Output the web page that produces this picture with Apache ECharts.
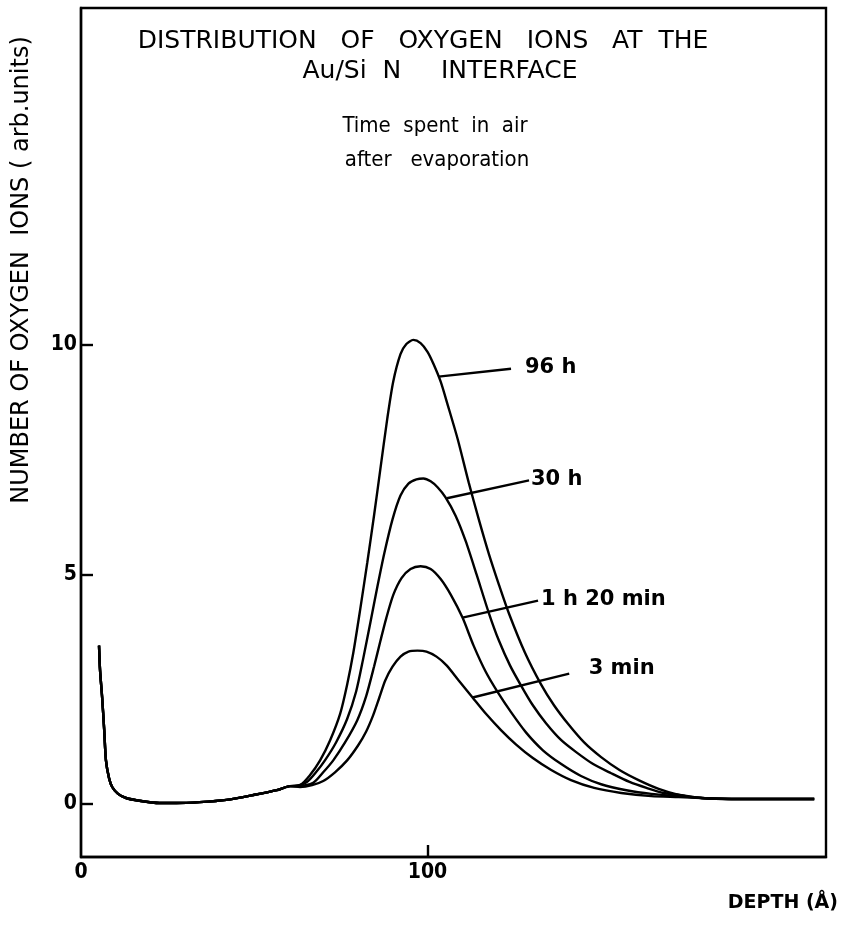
<!DOCTYPE html>
<html>
<head>
<meta charset="utf-8">
<script src="https://cdn.jsdelivr.net/npm/echarts@6/dist/echarts.min.js"></script>
<style>
  html, body { margin: 0; padding: 0; background: #fff; }
  #chart { width: 843px; height: 926px; }
</style>
</head>
<body>
<div id="chart"></div>
<script>
// Oxygen ion depth profiles at the Au/Si3N4 interface, one curve per air exposure time.
// Points are [depth (Å), number of oxygen ions (arb. units)].

// surface spike and flat region shared by every profile
const surfaceSegment = [
  [5.2, 3.45], [5.5, 2.91], [6.1, 2.32], [6.7, 1.61], [7.2, 0.95], [8.1, 0.56],
  [9.0, 0.37], [10.7, 0.22], [13.0, 0.13], [16.8, 0.07], [22.6, 0.02], [27.5, 0.02],
  [34.2, 0.04], [42.0, 0.09], [50.1, 0.20], [56.5, 0.30], [60.3, 0.39]
];

// deep tail shared by every profile
const bulkSegment = [
  [179.1, 0.13], [187.8, 0.11], [196.5, 0.11], [205.2, 0.11], [211.6, 0.11]
];

const peak96h = [
  [63.2, 0.41], [66.1, 0.63], [69.0, 0.95], [71.9, 1.39], [74.8, 1.97], [76.8, 2.60],
  [78.6, 3.30], [80.6, 4.25], [82.6, 5.25], [84.6, 6.30], [86.4, 7.30], [88.4, 8.40],
  [90.1, 9.20], [92.2, 9.80], [93.9, 10.02], [95.9, 10.11], [98.0, 10.04], [100.0, 9.85],
  [101.7, 9.59], [103.8, 9.20], [105.8, 8.70], [108.7, 7.95], [111.9, 7.00], [114.8, 6.20],
  [117.7, 5.45], [120.6, 4.78], [123.5, 4.15], [128.1, 3.30], [132.8, 2.60], [136.5, 2.15],
  [140.6, 1.74], [145.2, 1.34], [150.1, 1.02], [155.4, 0.74], [160.9, 0.52], [166.7, 0.33],
  [172.5, 0.20]
];

const peak30h = [
  [61.7, 0.39], [65.2, 0.48], [67.8, 0.69], [70.4, 0.95], [73.6, 1.34], [76.8, 1.85],
  [79.4, 2.45], [81.4, 3.15], [83.5, 3.95], [85.5, 4.72], [87.5, 5.45], [89.9, 6.20],
  [92.2, 6.72], [94.5, 6.98], [96.8, 7.07], [98.8, 7.09], [100.9, 7.03], [102.9, 6.90],
  [105.2, 6.68], [108.1, 6.28], [111.0, 5.73], [114.2, 4.99], [117.7, 4.16], [120.6, 3.56],
  [123.8, 3.02], [127.0, 2.58], [130.4, 2.15], [134.2, 1.76], [138.6, 1.39], [142.9, 1.13],
  [147.8, 0.87], [153.0, 0.67], [158.3, 0.48], [163.2, 0.35], [168.1, 0.24], [172.5, 0.20]
];

const peak1h20 = [
  [62.6, 0.39], [67.0, 0.46], [69.9, 0.69], [72.8, 0.95], [76.2, 1.34], [79.7, 1.82],
  [82.3, 2.35], [84.6, 3.00], [86.4, 3.55], [88.1, 4.05], [90.1, 4.55], [92.5, 4.92],
  [95.1, 5.12], [98.0, 5.18], [100.9, 5.12], [103.8, 4.90], [106.7, 4.56], [110.1, 4.06],
  [113.3, 3.45], [116.8, 2.88], [120.3, 2.43], [124.1, 2.00], [128.4, 1.56], [133.3, 1.17],
  [138.6, 0.87], [144.3, 0.61], [150.1, 0.43], [157.4, 0.30], [164.6, 0.22], [172.5, 0.17]
];

const peak3min = [
  [63.2, 0.37], [66.7, 0.41], [69.9, 0.50], [73.3, 0.69], [76.8, 0.95], [80.0, 1.28],
  [82.3, 1.58], [84.3, 1.93], [86.1, 2.32], [87.8, 2.69], [89.9, 2.99], [92.2, 3.21],
  [94.5, 3.32], [97.1, 3.34], [99.7, 3.32], [102.6, 3.21], [105.5, 3.02], [109.0, 2.69],
  [113.0, 2.32], [116.8, 1.97], [121.2, 1.61], [125.5, 1.30], [130.4, 1.00], [135.7, 0.74],
  [141.4, 0.52], [148.1, 0.35], [155.9, 0.24], [164.6, 0.17], [172.5, 0.15]
];

const seriesNames = ['96 h', '30 h', '1 h 20 min', '3 min'];
const peakSegments = [peak96h, peak30h, peak1h20, peak3min];

// leader lines from each curve to its exposure-time label: [start, end] in data units
const leaderLines = [
  [[103.2, 9.31], [124.1, 9.48]],
  [[105.6, 6.66], [129.3, 7.05]],
  [[110.1, 4.06], [131.9, 4.43]],
  [[113.0, 2.32], [140.9, 2.84]]
];
const leaderLabelGap = [14, 2, 3, 20];

const xTickValues = [100];
const xLabelValues = [0, 100];
const yTickValues = [0, 5, 10];

const titleLines = [
  'DISTRIBUTION   OF   OXYGEN   IONS   AT  THE',
  'Au/Si  N     INTERFACE',
  'Time  spent  in  air',
  'after   evaporation'
];
const yAxisTitle = 'NUMBER OF OXYGEN  IONS ( arb.units)';
const xAxisTitle = 'DEPTH (Å)';

const WIDE = "'DejaVu Sans', Verdana, sans-serif";
const NARROW = "'DejaVu Sans Condensed', 'Liberation Sans Narrow', 'DejaVu Sans', sans-serif";
const INK = '#000';

const chart = echarts.init(document.getElementById('chart'), null, { renderer: 'canvas' });

const series = seriesNames.map((name, i) => ({
  name: name,
  type: 'line',
  data: surfaceSegment.concat(peakSegments[i], bulkSegment),
  showSymbol: false,
  smooth: 0.25,
  lineStyle: { color: INK, width: 2.4 },
  silent: true,
  z: 3,
  markLine: {
    silent: true,
    symbol: ['none', 'none'],
    lineStyle: { color: INK, width: 2.4, type: 'solid' },
    label: {
      show: true,
      position: 'end',
      distance: leaderLabelGap[i],
      formatter: name,
      color: INK,
      fontFamily: WIDE,
      fontWeight: 'bold',
      fontSize: 21
    },
    data: [[
      { coord: leaderLines[i][0] },
      { coord: leaderLines[i][1] }
    ]]
  }
}));

// upper-case heading in the wide face, the lower-case caption in the condensed one
const titleLayout = [
  { x: 423, y: 41, size: 25, font: WIDE },
  { x: 440, y: 71, size: 25, font: WIDE },
  { x: 435, y: 126, size: 22, font: NARROW },
  { x: 437, y: 160, size: 22, font: NARROW }
];

chart.setOption({
  backgroundColor: '#fff',
  animation: false,
  grid: {
    left: 81, right: 17, top: 8, bottom: 69,
    show: true, borderColor: INK, borderWidth: 2.4, backgroundColor: 'transparent'
  },
  xAxis: {
    type: 'value',
    min: 0,
    max: 215,
    interval: 100,
    splitLine: { show: false },
    axisLine: { show: true, onZero: false, lineStyle: { color: INK, width: 2.4 } },
    axisTick: { show: true, inside: true, length: 12, customValues: xTickValues,
      lineStyle: { color: INK, width: 2.4 } },
    axisLabel: { show: true, customValues: xLabelValues, margin: 5, color: INK,
      fontFamily: NARROW, fontWeight: 'bold', fontSize: 21 }
  },
  yAxis: {
    type: 'value',
    min: -1.155,
    max: 17.34,
    splitLine: { show: false },
    axisLine: { show: true, onZero: false, lineStyle: { color: INK, width: 2.4 } },
    axisTick: { show: true, inside: true, length: 12, customValues: yTickValues,
      lineStyle: { color: INK, width: 2.4 } },
    axisLabel: { show: true, customValues: yTickValues, margin: 4, color: INK,
      fontFamily: NARROW, fontWeight: 'bold', fontSize: 21 }
  },
  series: series,
  graphic: titleLines.map((t, i) => ({
    type: 'text',
    x: titleLayout[i].x,
    y: titleLayout[i].y,
    silent: true,
    style: {
      text: t, fill: INK, fontFamily: titleLayout[i].font, fontSize: titleLayout[i].size,
      align: 'center', verticalAlign: 'middle'
    }
  })).concat([
    {
      type: 'text', x: 22, y: 270, rotation: Math.PI / 2, silent: true,
      style: { text: yAxisTitle, fill: INK, fontFamily: WIDE, fontSize: 24,
        align: 'center', verticalAlign: 'middle' }
    },
    {
      type: 'text', x: 838, y: 903, silent: true,
      style: { text: xAxisTitle, fill: INK, fontFamily: WIDE, fontWeight: 'bold', fontSize: 19,
        align: 'right', verticalAlign: 'middle' }
    }
  ])
});
</script>
</body>
</html>
